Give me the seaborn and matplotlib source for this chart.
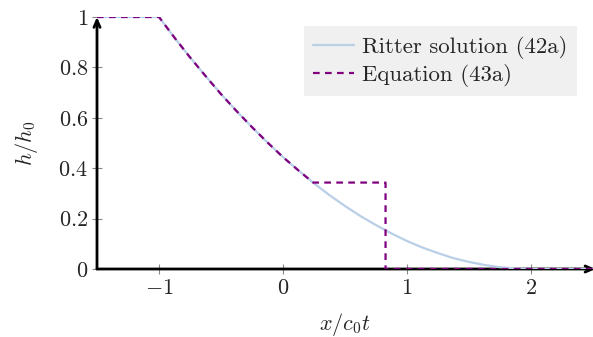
import matplotlib
matplotlib.use("Agg")
import matplotlib.pyplot as plt
import seaborn as sns
import pandas as pd

# Ritter solution (42a)
x_ritter = [-1.5, -1.0, -0.875, -0.75, -0.625, -0.5, -0.375, -0.25, -0.125, 0.0,
            0.125, 0.25, 0.375, 0.5, 0.625, 0.75, 0.875, 1.0, 1.125, 1.25,
            1.375, 1.5, 1.625, 1.75, 1.875, 2.0, 2.5]
h_ritter = [1.0, 1.0, 0.918, 0.840, 0.766, 0.694, 0.627, 0.563, 0.502, 0.444,
            0.391, 0.340, 0.293, 0.250, 0.210, 0.174, 0.141, 0.111, 0.085, 0.063,
            0.043, 0.028, 0.016, 0.007, 0.002, 0.0, 0.0]

# Equation (43a)
x_eq = [-1.5, -1.0, -0.875, -0.75, -0.625, -0.5, -0.375, -0.25, -0.125, 0.0,
        0.125, 0.243, 0.827, 0.827, 2.5]
h_eq = [1.0, 1.0, 0.918, 0.840, 0.766, 0.694, 0.627, 0.563, 0.502, 0.444,
        0.391, 0.343, 0.343, 0.0, 0.0]

x_ticks = [-1, 0, 1, 2]
x_ticklabels = ["$-1$", "$0$", "$1$", "$2$"]
y_ticks = [0, 0.2, 0.4, 0.6, 0.8, 1.0]
y_ticklabels = ["$0$", "$0.2$", "$0.4$", "$0.6$", "$0.8$", "$1$"]

FS = 16

sns.set_style("white")
plt.rcParams["mathtext.fontset"] = "cm"
plt.rcParams["font.family"] = ["cmr10", "DejaVu Serif"]
plt.rcParams["axes.unicode_minus"] = False

fig = plt.figure(figsize=(5.93, 3.37), dpi=100)
ax = fig.add_axes([97 / 593, 1 - 269 / 337, (593 - 97) / 593, (269 - 17) / 337])

df_r = pd.DataFrame({"x": x_ritter, "h": h_ritter})
df_e = pd.DataFrame({"x": x_eq, "h": h_eq})

sns.lineplot(data=df_r, x="x", y="h", ax=ax, color="#b8cfe6", lw=1.6,
             estimator=None, sort=False, label="Ritter solution (42a)", zorder=3)
sns.lineplot(data=df_e, x="x", y="h", ax=ax, color="#800080", lw=1.6,
             estimator=None, sort=False, label="Equation (43a)", zorder=4,
             dashes=False)
ax.lines[1].set_dashes((3, 2.4))

ax.set_xlim(-1.5, 2.5)
ax.set_ylim(0, 1)
for s in ax.spines.values():
    s.set_visible(False)

# axis arrows
ax.annotate("", xy=(2.52, 0), xytext=(-1.5, 0), xycoords="data",
            arrowprops=dict(arrowstyle="->,head_length=0.5,head_width=0.22", color="black",
                            lw=2, shrinkA=0, shrinkB=0),
            annotation_clip=False, zorder=2)
ax.annotate("", xy=(-1.5, 1.0), xytext=(-1.5, 0), xycoords="data",
            arrowprops=dict(arrowstyle="->,head_length=0.5,head_width=0.22", color="black",
                            lw=2, shrinkA=0, shrinkB=0),
            annotation_clip=False, zorder=2)

ax.set_xticks(x_ticks)
ax.set_xticklabels(x_ticklabels)
ax.set_yticks(y_ticks)
ax.set_yticklabels(y_ticklabels)
ax.tick_params(axis="both", direction="inout", length=7, width=0.8, color="#888888",
               labelsize=FS, pad=3, bottom=True, left=True)
ax.set_xlabel("$x/c_0t$", fontsize=FS, labelpad=10)
ax.set_ylabel("$h/h_0$", fontsize=FS, labelpad=13)

leg = ax.legend(loc="upper right", bbox_to_anchor=(0.968, 0.964), borderaxespad=0,
                fontsize=16.4, frameon=True, fancybox=False, framealpha=1,
                facecolor="#f0f0f0", edgecolor="none", handlelength=1.8,
                handletextpad=0.35, borderpad=0.42, labelspacing=0.22)

fig.savefig("out.png", dpi=100)
